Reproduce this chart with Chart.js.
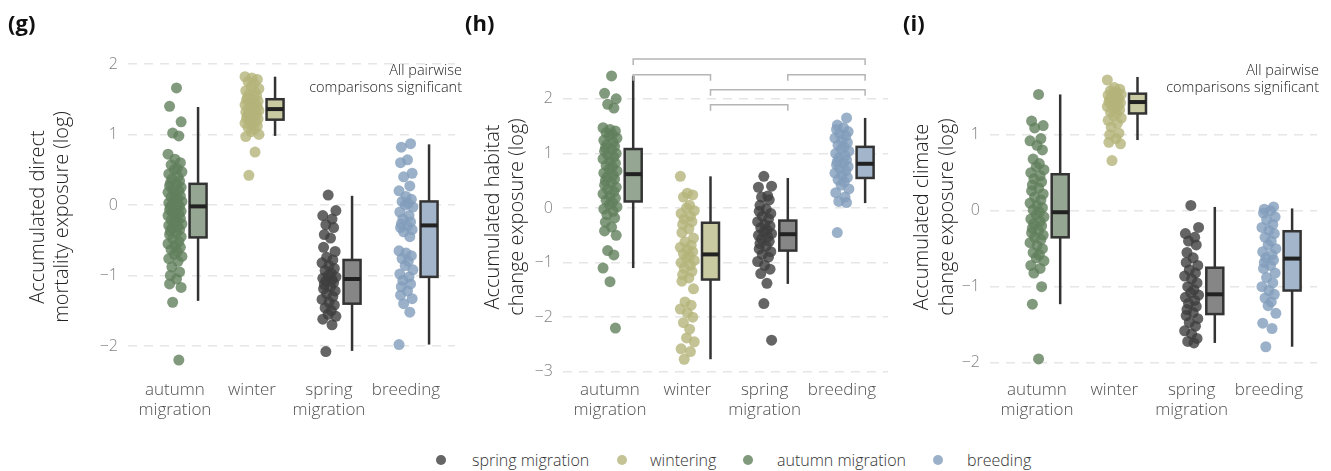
<!DOCTYPE html>
<html>
<head>
<meta charset="utf-8">
<script src="https://cdn.jsdelivr.net/npm/chart.js@4.4.1/dist/chart.umd.min.js"></script>
<style>
  body { margin: 0; background: #fff; font-family: "Open Sans", sans-serif; }
  #wrap { position: relative; width: 1331px; height: 471px; overflow: hidden; }
  .panel { position: absolute; top: 0; height: 420px; }
  .tag { position: absolute; top: 7px; font-weight: 700; font-size: 22px; color: #111; }
  .key { position: absolute; top: 449px; font-size: 16px; color: #333; white-space: nowrap; font-weight: 300; }
  .dot { position: absolute; top: 455px; width: 10px; height: 10px; border-radius: 50%; }
</style>
</head>
<body>
<div id="wrap">
  <div class="panel" style="left:0;width:470px"><canvas id="g"></canvas></div>
  <div class="panel" style="left:440px;width:460px"><canvas id="h"></canvas></div>
  <div class="panel" style="left:880px;width:451px"><canvas id="i"></canvas></div>
  <div class="tag" style="left:8px">(g)</div>
  <div class="tag" style="left:465px">(h)</div>
  <div class="tag" style="left:903px">(i)</div>
  <div id="legend"></div>
</div>
<script>
// — Categories & tick labels —
const categories  = ['autumn migration', 'winter', 'spring migration', 'breeding'];
const legendNames = ['spring migration', 'wintering', 'autumn migration', 'breeding'];
const ticksG = [-2, -1, 0, 1, 2];
const ticksH = [-3, -2, -1, 0, 1, 2];
const ticksI = [-2, -1, 0, 1];

// — (g) direct mortality exposure —
const gAutumn = [1.66,1.40,1.18,1.02,0.98,0.72,0.65,0.60,0.57,0.52,0.50,0.47,0.44,0.40,0.37,0.34,0.31,0.29,0.27,0.25,0.22,0.20,0.18,0.15,0.13,0.11,0.09,0.07,0.05,0.03,0.01,0.00,-0.02,-0.03,-0.05,-0.07,-0.09,-0.11,-0.13,-0.15,-0.17,-0.19,-0.21,-0.23,-0.25,-0.27,-0.29,-0.31,-0.33,-0.35,-0.37,-0.40,-0.42,-0.45,-0.48,-0.52,-0.55,-0.58,-0.60,-0.63,-0.66,-0.70,-0.73,-0.76,-0.80,-0.88,-0.95,-1.00,-1.05,-1.12,-1.17,-1.38,-2.20];
const gWinter = [1.82,1.80,1.78,1.75,1.72,1.68,1.65,1.62,1.60,1.57,1.55,1.52,1.50,1.49,1.47,1.45,1.43,1.42,1.40,1.39,1.37,1.36,1.35,1.34,1.32,1.31,1.29,1.28,1.26,1.25,1.23,1.22,1.20,1.18,1.16,1.14,1.12,1.10,1.07,1.04,1.00,0.97,0.75,0.42];
const gSpring = [0.14,-0.08,-0.15,-0.20,-0.28,-0.32,-0.42,-0.47,-0.60,-0.66,-0.74,-0.78,-0.82,-0.86,-0.90,-0.93,-0.97,-1.00,-1.02,-1.04,-1.06,-1.08,-1.10,-1.13,-1.16,-1.19,-1.22,-1.26,-1.30,-1.34,-1.38,-1.42,-1.46,-1.50,-1.55,-1.58,-1.62,-1.70,-2.08];
const gBreeding = [0.87,0.82,0.64,0.60,0.45,0.40,0.27,0.20,0.12,0.08,0.05,0.02,0.00,-0.03,-0.10,-0.15,-0.20,-0.24,-0.27,-0.30,-0.32,-0.35,-0.38,-0.45,-0.65,-0.68,-0.72,-0.76,-0.80,-0.86,-0.92,-0.98,-1.02,-1.07,-1.12,-1.16,-1.22,-1.28,-1.33,-1.40,-1.52,-1.98];
// box stats: [lower whisker, q1, median, q3, upper whisker]
const gBoxes = [[-1.36,-0.46,-0.02,0.30,1.39],[0.98,1.21,1.36,1.50,1.82],[-2.07,-1.40,-1.05,-0.78,0.13],[-1.98,-1.02,-0.29,0.05,0.86]];

// — (h) habitat change exposure —
const hAutumn = [2.42,2.10,2.00,1.90,1.83,1.47,1.44,1.41,1.38,1.35,1.32,1.28,1.24,1.20,1.16,1.13,1.10,1.07,1.04,1.00,0.97,0.93,0.90,0.86,0.82,0.78,0.75,0.71,0.68,0.64,0.60,0.57,0.53,0.50,0.46,0.42,0.38,0.34,0.30,0.26,0.22,0.18,0.14,0.10,0.06,0.02,-0.02,-0.06,-0.12,-0.18,-0.26,-0.35,-0.42,-0.50,-0.78,-0.86,-1.10,-1.35,-2.20];
const hWinter = [0.58,0.27,0.24,0.20,0.05,0.00,-0.05,-0.10,-0.15,-0.20,-0.25,-0.30,-0.38,-0.45,-0.55,-0.62,-0.68,-0.72,-0.76,-0.80,-0.84,-0.88,-0.92,-0.96,-1.00,-1.05,-1.10,-1.16,-1.22,-1.28,-1.34,-1.48,-1.72,-1.78,-1.85,-1.92,-2.00,-2.10,-2.22,-2.38,-2.45,-2.58,-2.63,-2.77];
const hSpring = [0.58,0.40,0.38,0.22,0.20,0.15,0.05,-0.02,-0.06,-0.10,-0.15,-0.20,-0.25,-0.30,-0.33,-0.36,-0.40,-0.44,-0.47,-0.50,-0.53,-0.57,-0.61,-0.65,-0.70,-0.75,-0.80,-0.85,-0.90,-0.98,-1.05,-1.12,-1.20,-1.38,-1.75,-2.42];
const hBreeding = [1.65,1.52,1.47,1.44,1.40,1.36,1.32,1.28,1.24,1.20,1.15,1.12,1.08,1.04,1.00,0.96,0.92,0.88,0.85,0.82,0.79,0.76,0.72,0.68,0.64,0.60,0.56,0.52,0.48,0.42,0.35,0.28,0.20,0.12,0.10,-0.45];
const hBoxes = [[-1.10,0.12,0.62,1.08,2.42],[-2.77,-1.31,-0.85,-0.27,0.58],[-1.39,-0.78,-0.48,-0.23,0.55],[0.09,0.55,0.81,1.12,1.65]];
// significance brackets: [from category, to category, height]
const hBrackets = [[1,4,2.73],[1,2,2.44],[3,4,2.44],[2,4,2.165],[2,3,1.89]];

// — (i) climate change exposure —
const iAutumn = [1.53,1.18,1.12,1.09,0.95,0.92,0.86,0.80,0.68,0.62,0.58,0.54,0.50,0.46,0.42,0.38,0.34,0.30,0.26,0.22,0.18,0.14,0.10,0.07,0.04,0.01,-0.02,-0.05,-0.08,-0.11,-0.14,-0.17,-0.20,-0.23,-0.26,-0.29,-0.32,-0.35,-0.38,-0.42,-0.46,-0.50,-0.55,-0.58,-0.62,-0.66,-0.72,-0.76,-0.82,-1.00,-1.23,-1.95];
const iWinter = [1.72,1.62,1.60,1.58,1.56,1.55,1.53,1.52,1.50,1.49,1.47,1.46,1.44,1.43,1.42,1.40,1.38,1.37,1.35,1.33,1.30,1.28,1.25,1.22,1.19,1.15,1.10,1.02,1.00,0.95,0.90,0.88,0.66];
const iSpring = [0.07,-0.22,-0.30,-0.35,-0.40,-0.45,-0.55,-0.62,-0.68,-0.72,-0.78,-0.82,-0.86,-0.90,-0.95,-1.00,-1.04,-1.08,-1.11,-1.14,-1.18,-1.22,-1.26,-1.30,-1.34,-1.38,-1.42,-1.47,-1.52,-1.58,-1.62,-1.68,-1.72,-1.74];
const iBreeding = [0.05,0.02,0.00,-0.03,-0.08,-0.12,-0.18,-0.22,-0.26,-0.30,-0.35,-0.40,-0.45,-0.50,-0.54,-0.58,-0.62,-0.65,-0.68,-0.72,-0.76,-0.82,-0.88,-0.95,-1.00,-1.05,-1.10,-1.15,-1.20,-1.25,-1.35,-1.48,-1.55,-1.79];
const iBoxes = [[-1.23,-0.35,-0.02,0.48,1.53],[0.93,1.28,1.43,1.54,1.76],[-1.74,-1.36,-1.10,-0.75,0.05],[-1.79,-1.05,-0.63,-0.27,0.03]];

// — Colours (in category order) —
const pointColors = ['rgba(98,128,93,0.8)', 'rgba(180,180,122,0.8)', 'rgba(62,62,62,0.8)', 'rgba(130,157,188,0.8)'];
const boxFills    = ['#95a792', '#cacaa2', '#868686', '#a3b5cb'];
const legendColors = ['rgba(62,62,62,0.8)', 'rgba(180,180,122,0.8)', 'rgba(98,128,93,0.8)', 'rgba(130,157,188,0.8)'];

// horizontal jitter, hand-set offsets (category units)
const jitter = [0.02,-0.07,0.08,-0.03,0.05,-0.09,0.00,0.07,-0.05,0.03,-0.01,0.09,-0.08,0.04,-0.04,0.06,-0.06];
const BOX_SHIFT = 0.3;
const BOX_W = 17;
const FONT = '"Open Sans", sans-serif';

const minus = v => v < 0 ? '\u2212' + Math.abs(v) : String(v);

// — Draw boxes, brackets, titles and notes —
const deco = {
  id: 'deco',
  afterDatasetsDraw(chart, args, o) {
    const { ctx, scales: { x, y } } = chart;
    ctx.save();
    ctx.lineCap = 'butt';
    o.boxes.forEach((b, i) => {
      const cx = x.getPixelForValue(i + 1 + BOX_SHIFT);
      ctx.strokeStyle = '#333';
      ctx.lineWidth = 2.5;
      ctx.beginPath();
      ctx.moveTo(cx, y.getPixelForValue(b[0]));
      ctx.lineTo(cx, y.getPixelForValue(b[4]));
      ctx.stroke();
      const top = y.getPixelForValue(b[3]);
      const bot = y.getPixelForValue(b[1]);
      ctx.fillStyle = boxFills[i];
      ctx.fillRect(cx - BOX_W / 2, top, BOX_W, bot - top);
      ctx.strokeRect(cx - BOX_W / 2, top, BOX_W, bot - top);
      ctx.strokeStyle = '#222';
      ctx.lineWidth = 4;
      ctx.beginPath();
      const m = y.getPixelForValue(b[2]);
      ctx.moveTo(cx - BOX_W / 2, m);
      ctx.lineTo(cx + BOX_W / 2, m);
      ctx.stroke();
    });
    (o.brackets || []).forEach(br => {
      const x1 = x.getPixelForValue(br[0] + BOX_SHIFT);
      const x2 = x.getPixelForValue(br[1] + BOX_SHIFT);
      const yt = y.getPixelForValue(br[2]);
      ctx.strokeStyle = '#b5b5b5';
      ctx.lineWidth = 1.5;
      ctx.beginPath();
      ctx.moveTo(x1, yt + 6);
      ctx.lineTo(x1, yt);
      ctx.lineTo(x2, yt);
      ctx.lineTo(x2, yt + 6);
      ctx.stroke();
    });
    // y title
    ctx.fillStyle = '#222';
    ctx.font = '300 20px ' + FONT;
    ctx.textAlign = 'center';
    ctx.textBaseline = 'middle';
    o.title.forEach((line, k) => {
      ctx.save();
      ctx.translate(o.titleX[k], 217);
      ctx.rotate(-Math.PI / 2);
      ctx.fillText(line, 0, 0);
      ctx.restore();
    });
    if (o.note) {
      ctx.font = '300 14.5px ' + FONT;
      ctx.textAlign = 'right';
      ctx.fillText('All pairwise', o.noteX, 71);
      ctx.fillText('comparisons significant', o.noteX, 88);
    }
    ctx.restore();
  }
};

function makePanel(id, groups, boxes, yTicks, cfg) {
  const datasets = groups.map((vals, g) => ({
    data: vals.map((v, k) => ({ x: g + 1 + jitter[(k + g * 5) % jitter.length], y: v })),
    pointRadius: 5.5,
    pointHoverRadius: 5.5,
    pointBorderWidth: 0,
    pointBackgroundColor: pointColors[g],
    borderColor: 'transparent'
  }));
  new Chart(document.getElementById(id), {
    type: 'scatter',
    data: { datasets },
    options: {
      responsive: true,
      maintainAspectRatio: false,
      animation: false,
      layout: { padding: { top: cfg.top, right: cfg.right, bottom: 0, left: 0 } },
      plugins: {
        legend: { display: false },
        tooltip: { enabled: false },
        deco: { boxes, brackets: cfg.brackets, title: cfg.title, titleX: cfg.titleX, note: cfg.note, noteX: cfg.noteX }
      },
      scales: {
        x: {
          type: 'linear',
          min: cfg.xMin, max: cfg.xMax,
          afterBuildTicks: s => { s.ticks = categories.map((c, k) => ({ value: k + 1 })); },
          afterFit: s => { s.height = 420 - cfg.bottom; },
          grid: { display: false, drawTicks: false },
          border: { display: false },
          ticks: {
            padding: 4,
            color: '#505050',
            font: { family: FONT, size: 17, weight: 300 },
            autoSkip: false,
            maxRotation: 0,
            callback: v => categories[v - 1].split(' ')
          }
        },
        y: {
          min: cfg.yMin, max: cfg.yMax,
          afterBuildTicks: s => { s.ticks = yTicks.map(v => ({ value: v })); },
          afterFit: s => { s.width = cfg.left; },
          grid: { color: '#e6e6e6', lineWidth: 1.5, drawTicks: false },
          border: { display: false, dash: [9, 7] },
          ticks: {
            padding: 10,
            color: '#808080',
            font: { family: FONT, size: 16, weight: 300 },
            callback: v => minus(v)
          }
        }
      }
    },
    plugins: [deco]
  });
}

makePanel('g', [gAutumn, gWinter, gSpring, gBreeding], gBoxes, ticksG, {
  top: 62, bottom: 376, left: 128, right: 15,
  xMin: 0.39, xMax: 4.637, yMin: -2.426, yMax: 2.028,
  title: ['Accumulated direct', 'mortality exposure (log)'], titleX: [38, 62],
  note: true, noteX: 462
});
makePanel('h', [hAutumn, hWinter, hSpring, hBreeding], hBoxes, ticksH, {
  top: 50, bottom: 376, left: 123, right: 12,
  xMin: 0.392, xMax: 4.596, yMin: -3.077, yMax: 2.894,
  title: ['Accumulated habitat', 'change exposure (log)'], titleX: [53, 77],
  brackets: hBrackets, note: false
});
makePanel('i', [iAutumn, iWinter, iSpring, iBreeding], iBoxes, ticksI, {
  top: 62, bottom: 376, left: 110, right: 14,
  xMin: 0.392, xMax: 4.622, yMin: -2.175, yMax: 1.957,
  title: ['Accumulated climate', 'change exposure (log)'], titleX: [42, 67],
  note: true, noteX: 439
});

// — Legend —
const legend = document.getElementById('legend');
const dotX = [441, 622, 748, 938];
const textX = [472, 650, 777, 967];
legendNames.forEach((name, k) => {
  const d = document.createElement('div');
  d.className = 'dot';
  d.style.left = (dotX[k] - 5) + 'px';
  d.style.background = legendColors[k];
  legend.appendChild(d);
  const t = document.createElement('div');
  t.className = 'key';
  t.style.left = textX[k] + 'px';
  t.textContent = name;
  legend.appendChild(t);
});
</script>
</body>
</html>
